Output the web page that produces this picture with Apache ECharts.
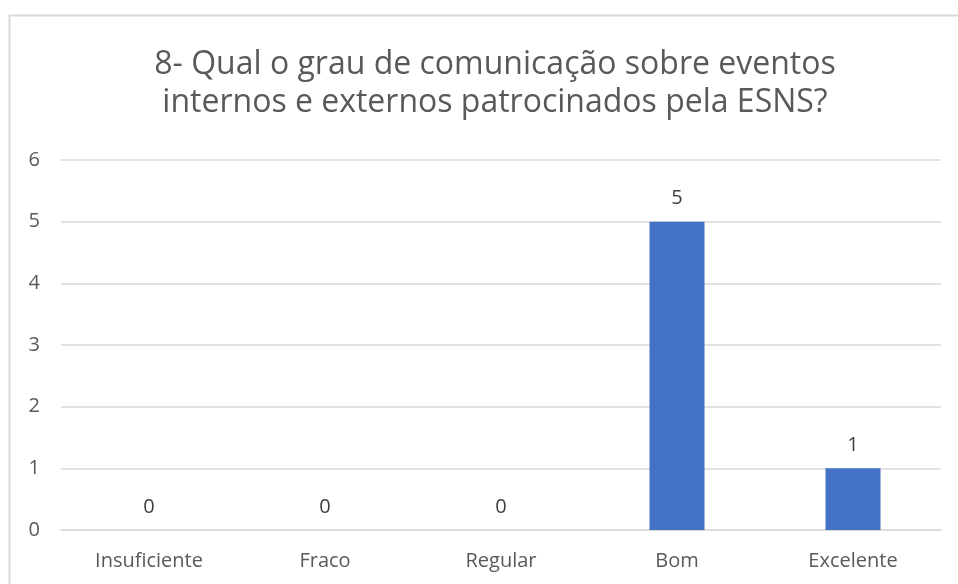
<!DOCTYPE html>
<html>
<head>
<meta charset="utf-8">
<script src="https://cdn.jsdelivr.net/npm/echarts@6/dist/echarts.min.js"></script>
<style>
	html, body { margin: 0; padding: 0; background: #ffffff; }
	#chart { width: 958px; height: 584px; }
</style>
</head>
<body>
<div id="chart"></div>
<script>
	var categories = ['Insuficiente', 'Fraco', 'Regular', 'Bom', 'Excelente'];
	var values = [0, 0, 0, 5, 1];
	var yTicks = [0, 1, 2, 3, 4, 5, 6];

	var myChart = echarts.init(document.getElementById('chart'));
	var font = '"Open Sans", "Noto Sans", sans-serif';
	var option = {
		animation: false,
		backgroundColor: '#ffffff',
		title: {
			text: '8- Qual o grau de comunicação sobre eventos\ninternos e externos patrocinados pela ESNS?',
			left: 490,
			top: 41,
			textAlign: 'center',
			textStyle: {
				color: '#595959',
				fontFamily: font,
				fontSize: 32,
				fontWeight: 'normal',
				lineHeight: 38
			}
		},
		graphic: [{
			type: 'rect',
			shape: { x: 9.5, y: 15.5, width: 960, height: 620 },
			style: { fill: 'none', stroke: '#d9d9d9', lineWidth: 2 },
			silent: true
		}],
		grid: { left: 61, right: 17, top: 160, bottom: 54 },
		xAxis: {
			type: 'category',
			data: categories,
			axisLine: { lineStyle: { color: '#d9d9d9', width: 1.5 } },
			axisTick: { show: false },
			axisLabel: { color: '#595959', fontFamily: font, fontSize: 20, margin: 21 }
		},
		yAxis: {
			type: 'value',
			min: yTicks[0],
			max: yTicks[yTicks.length - 1],
			interval: 1,
			axisLine: { show: false },
			axisTick: { show: false },
			splitLine: { lineStyle: { color: '#d9d9d9', width: 1.5 } },
			axisLabel: { color: '#595959', fontFamily: font, fontSize: 20, margin: 21 }
		},
		series: [{
			type: 'bar',
			data: values,
			barWidth: 55,
			itemStyle: { color: '#4472c4' },
			label: {
				show: true,
				position: 'top',
				distance: 13,
				color: '#404040',
				fontFamily: font,
				fontSize: 20
			}
		}]
	};
	myChart.setOption(option);
</script>
</body>
</html>
